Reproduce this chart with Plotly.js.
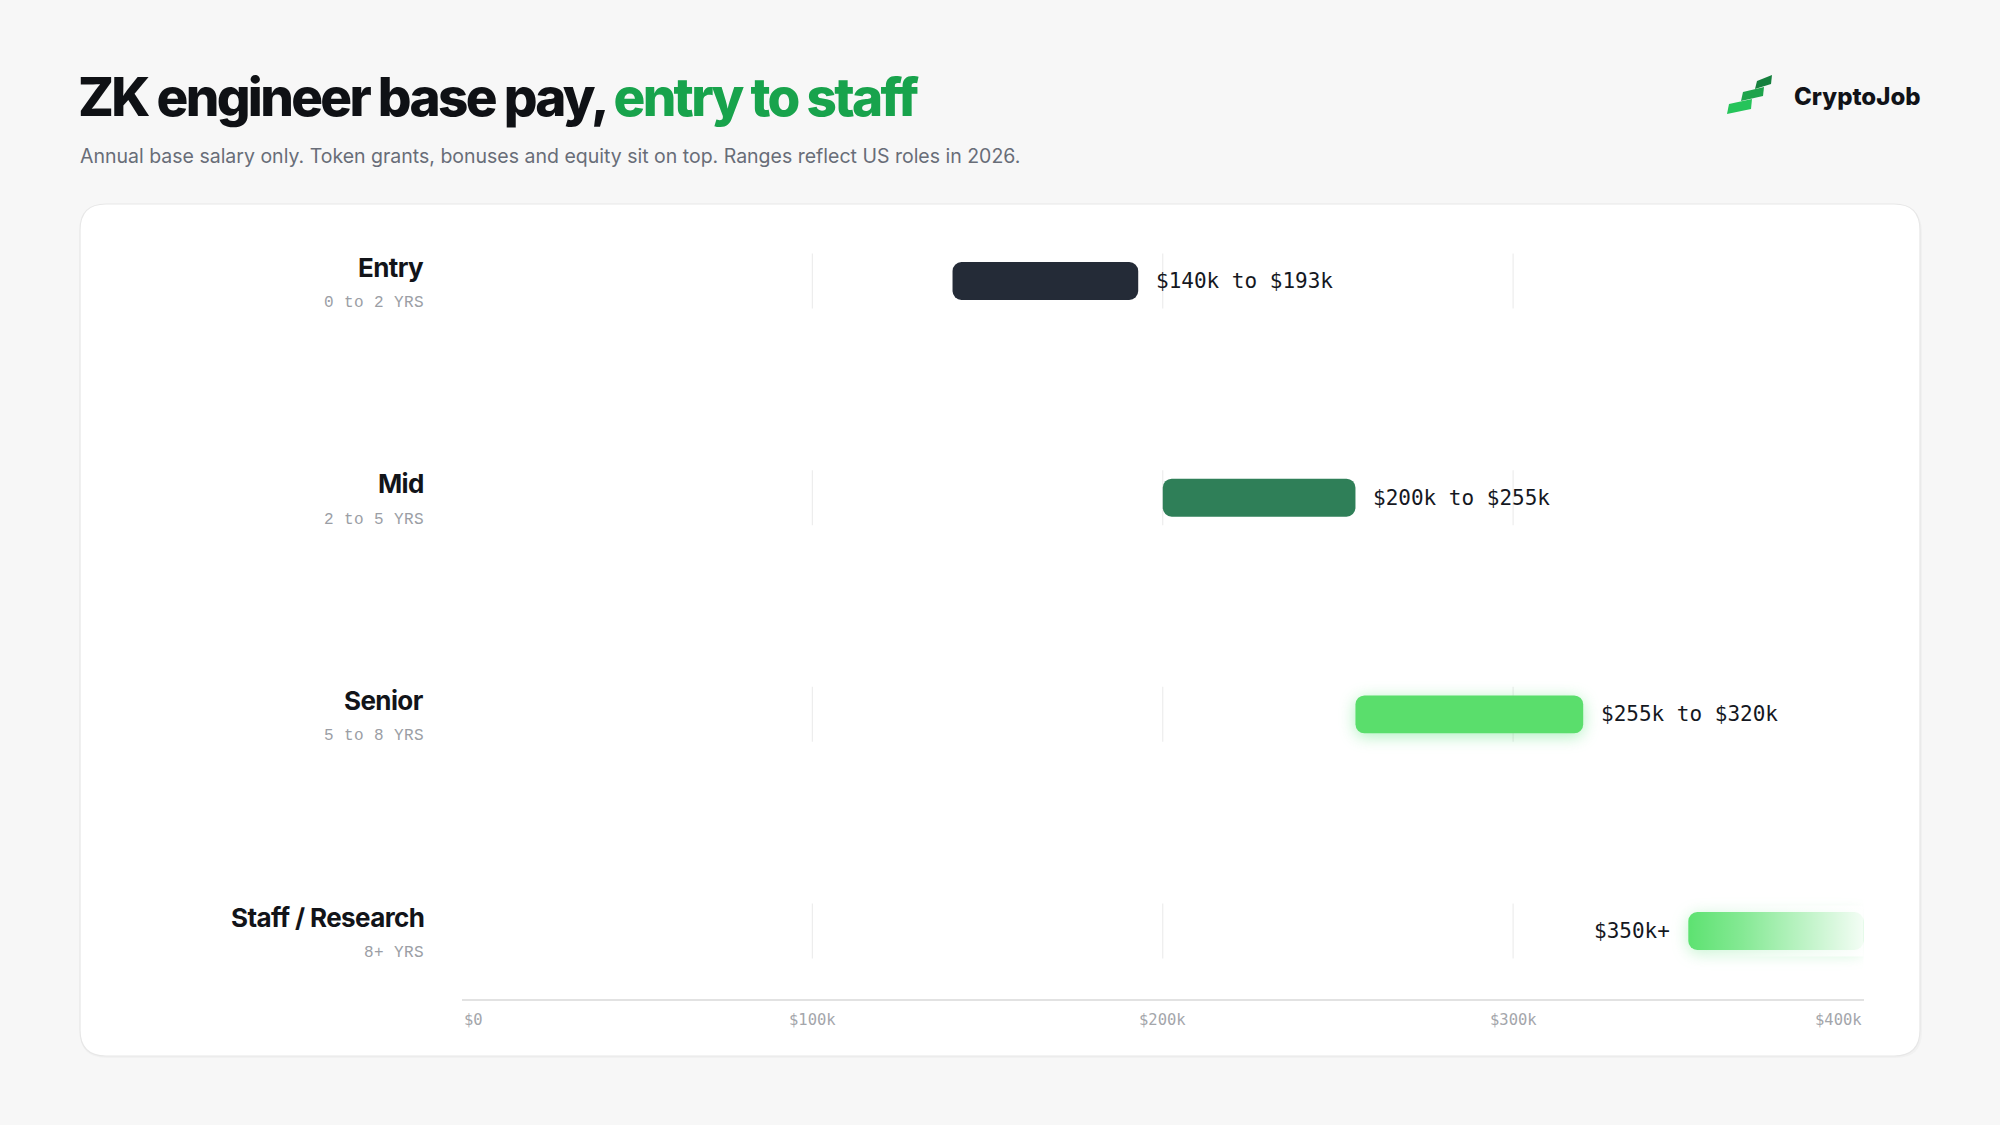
<!DOCTYPE html>
<html>
<head>
<meta charset="utf-8">
<script src="https://cdn.plot.ly/plotly-3.0.1.min.js"></script>
<style>
  html, body { margin: 0; padding: 0; background: #f7f7f7; }
  #chart { width: 2000px; height: 1125px; }
  .gtitle { letter-spacing: -2.7px; }
  text[style*="Liberation Mono"] { letter-spacing: 0.4px; }
  text[style*="font-size: 26px"] { letter-spacing: -0.6px; }
  .barlayer .point:nth-child(3) path { filter: drop-shadow(0 3px 8px rgba(74, 222, 110, 0.45)); }
  .barlayer .point:nth-child(4) path { filter: drop-shadow(0 3px 8px rgba(74, 222, 110, 0.35)); }
</style>
</head>
<body>
<div id="chart"></div>
<script>
// ---- data ----
const levels = ['Entry', 'Mid', 'Senior', 'Staff / Research'];
const years = ['0 to 2 YRS', '2 to 5 YRS', '5 to 8 YRS', '8+ YRS'];
const lowK = [140, 200, 255, 350];
const highK = [193, 255, 320, 400];
const rangeLabels = ['$140k to $193k', '$200k to $255k', '$255k to $320k', '$350k+'];
const labelSide = ['right', 'right', 'right', 'left'];
const tickVals = [0, 100, 200, 300, 400];
const tickText = ['$0', '$100k', '$200k', '$300k', '$400k'];
const gridVals = [100, 200, 300];
const barColors = ['#242b37', '#2f7f58', '#5ade6c', '#5de271'];

// ---- layout helpers (pixel -> paper) ----
const W = 2000, H = 1125;
const px = x => x / W;
const py = y => 1 - y / H;
const rowIdx = levels.map((_, i) => i);
const barHalf = 0.0875;

const bars = {
  type: 'bar',
  orientation: 'h',
  y: rowIdx,
  x: highK.map((h, i) => h - lowK[i]),
  base: lowK,
  width: barHalf * 2,
  marker: { color: barColors, line: { width: 0 } },
  hoverinfo: 'skip',
  showlegend: false
};

// fade overlay on the open-ended top band
const last = levels.length - 1;
const fade = {
  type: 'scatter',
  mode: 'none',
  x: [lowK[last], highK[last] + 2, highK[last] + 2, lowK[last], lowK[last]],
  y: [last - barHalf - 0.03, last - barHalf - 0.03, last + barHalf + 0.03, last + barHalf + 0.03, last - barHalf - 0.03],
  fill: 'toself',
  fillgradient: {
    type: 'horizontal',
    colorscale: [[0, 'rgba(255,255,255,0)'], [0.3, 'rgba(255,255,255,0.25)'], [1, 'rgba(255,255,255,0.97)']]
  },
  line: { width: 0 },
  hoverinfo: 'skip',
  showlegend: false
};

const shapes = [];
// card
function roundRect(x0, y0, x1, y1, r) {
  return 'M' + px(x0 + r) + ',' + py(y0) +
    ' L' + px(x1 - r) + ',' + py(y0) +
    ' Q' + px(x1) + ',' + py(y0) + ' ' + px(x1) + ',' + py(y0 + r) +
    ' L' + px(x1) + ',' + py(y1 - r) +
    ' Q' + px(x1) + ',' + py(y1) + ' ' + px(x1 - r) + ',' + py(y1) +
    ' L' + px(x0 + r) + ',' + py(y1) +
    ' Q' + px(x0) + ',' + py(y1) + ' ' + px(x0) + ',' + py(y1 - r) +
    ' L' + px(x0) + ',' + py(y0 + r) +
    ' Q' + px(x0) + ',' + py(y0) + ' ' + px(x0 + r) + ',' + py(y0) + ' Z';
}
shapes.push({ type: 'path', xref: 'paper', yref: 'paper', layer: 'below',
  path: roundRect(80, 206, 1922, 1058, 26), fillcolor: 'rgba(0,0,0,0.025)', line: { width: 0 } });
shapes.push({ type: 'path', xref: 'paper', yref: 'paper', layer: 'below',
  path: roundRect(80, 204, 1920, 1056, 26), fillcolor: '#ffffff', line: { color: '#e7e7e7', width: 1.2 } });

// row-segmented grid lines
rowIdx.forEach(i => {
  gridVals.forEach(v => {
    shapes.push({ type: 'line', xref: 'x', yref: 'y', layer: 'below',
      x0: v, x1: v, y0: i - 0.127, y1: i + 0.127,
      line: { color: '#ededed', width: 1.2 } });
  });
});

// logo icon
function poly(pts) {
  return 'M' + pts.map(p => px(p[0]) + ',' + py(p[1])).join(' L') + ' Z';
}
const logoStrips = [
  { pts: [[1727, 114], [1729, 104], [1752, 99], [1751, 109]], c: '#26c45a' },
  { pts: [[1741, 101], [1743, 92], [1764, 87], [1763, 96]], c: '#1ea34b' },
  { pts: [[1755, 89], [1757, 81], [1772, 75], [1771, 84]], c: '#16803e' }
];
logoStrips.forEach(s => shapes.push({ type: 'path', xref: 'paper', yref: 'paper', layer: 'above',
  path: poly(s.pts), fillcolor: s.c, line: { width: 0 } }));

const annotations = [];
// subtitle
annotations.push({ xref: 'paper', yref: 'paper', x: px(78), y: py(156), xanchor: 'left', yanchor: 'middle',
  showarrow: false, text: 'Annual base salary only. Token grants, bonuses and equity sit on top. Ranges reflect US roles in 2026.',
  font: { family: 'Inter, sans-serif', size: 19.5, color: '#686d78' } });
// logo text
annotations.push({ xref: 'paper', yref: 'paper', x: px(1923), y: py(96), xanchor: 'right', yanchor: 'middle',
  showarrow: false, text: 'CryptoJob', font: { family: 'Inter, sans-serif', size: 24, weight: 800, color: '#111318' } });

// row labels
rowIdx.forEach(i => {
  annotations.push({ xref: 'paper', yref: 'y', x: px(426), y: i, yshift: 14, xanchor: 'right', yanchor: 'middle',
    showarrow: false, text: levels[i], font: { family: 'Inter, sans-serif', size: 26, weight: 700, color: '#121419' } });
  annotations.push({ xref: 'paper', yref: 'y', x: px(426), y: i, yshift: -22, xanchor: 'right', yanchor: 'middle',
    showarrow: false, text: years[i], font: { family: 'Liberation Mono, monospace', size: 16, color: '#9b9ea5' } });
  const right = labelSide[i] === 'right';
  annotations.push({ xref: 'x', yref: 'y', x: right ? highK[i] : lowK[i], y: i, xanchor: right ? 'left' : 'right',
    xshift: right ? 16 : -16, yanchor: 'middle', showarrow: false, text: rangeLabels[i],
    font: { family: 'DejaVu Sans Mono, monospace', size: 21, color: '#15181f' } });
});

// x tick labels
tickVals.forEach((v, k) => {
  annotations.push({ xref: 'x', yref: 'paper', x: v, y: py(1020), yanchor: 'middle',
    xanchor: k === 0 ? 'left' : (k === tickVals.length - 1 ? 'right' : 'center'),
    showarrow: false, text: tickText[k], font: { family: 'DejaVu Sans Mono, monospace', size: 15.5, color: '#a4a6ab' } });
});

const yTop = -0.3046, yBottom = 3.3138;

const layout = {
  width: W, height: H, autosize: false,
  margin: { l: 0, r: 0, t: 0, b: 0, pad: 0 },
  paper_bgcolor: '#f7f7f7',
  plot_bgcolor: 'rgba(0,0,0,0)',
  barcornerradius: 9,
  title: {
    text: 'ZK engineer base pay, <span style="color:#18a34c">entry to staff</span>',
    x: px(78), xanchor: 'left', xref: 'paper',
    y: py(97), yanchor: 'middle', yref: 'paper',
    font: { family: 'Inter, sans-serif', size: 53, weight: 800, color: '#0f1115' }
  },
  xaxis: {
    domain: [px(462), px(1863.5)],
    range: [0, 400],
    showgrid: false, zeroline: false,
    showline: true, linecolor: '#e2e2e2', linewidth: 2,
    ticks: '', showticklabels: false, fixedrange: true
  },
  yaxis: {
    domain: [py(999), py(215)],
    range: [yBottom, yTop],
    showgrid: false, zeroline: false, showline: false,
    ticks: '', showticklabels: false, fixedrange: true
  },
  shapes: shapes,
  annotations: annotations,
  showlegend: false,
  hovermode: false
};

Plotly.newPlot('chart', [bars, fade], layout, { displayModeBar: false, staticPlot: true });
</script>
</body>
</html>
